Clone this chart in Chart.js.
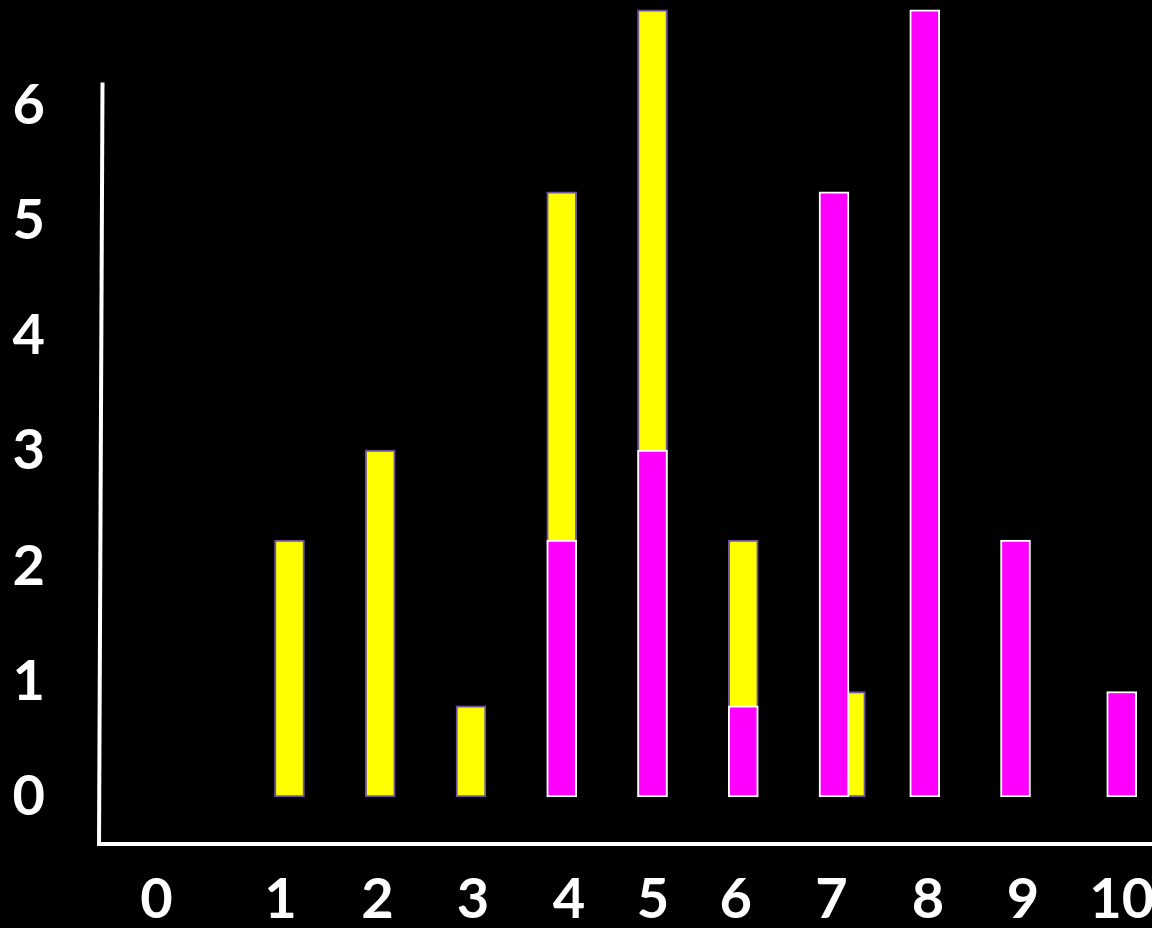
<!DOCTYPE html>
<html>
<head>
<meta charset="utf-8">
<script src="https://cdn.jsdelivr.net/npm/chart.js@4.4.1/dist/chart.umd.min.js"></script>
<style>
  html, body { margin: 0; padding: 0; background: #000; }
  #wrap { width: 1152px; height: 928px; }
</style>
</head>
<body>
<div id="wrap"><canvas id="c" width="1152" height="928"></canvas></div>
<script>
// ---- data ----
const yellowX = [1, 2, 3, 4, 5, 6, 7.18];
const yellowY = [2.23, 3.01, 0.79, 5.25, 6.83, 2.23, 0.915];
const magentaX = [4, 5, 6, 7, 8, 9, 10.17];
const magentaY = [2.23, 3.01, 0.79, 5.25, 6.83, 2.23, 0.915];

const xTickLabels = ['0', '1', '2', '3', '4', '5', '6', '7', '8', '9', '10'];
const xTickAt = [-0.466, 0.901, 1.970, 3.022, 4.080, 5.006, 5.918, 6.972, 8.036, 9.083, 10.170];
const yTickLabels = ['0', '1', '2', '3', '4', '5', '6'];
const yTickAt = [0, 1, 2, 3, 4, 5, 6];

const toPoints = (xs, ys) => xs.map((x, i) => ({ x: x, y: ys[i] }));

const FONT = { family: 'Lato, "Open Sans", sans-serif', size: 56, weight: 'bold' };

const bgAndAxes = {
  id: 'bgAndAxes',
  beforeDraw(chart) {
    const ctx = chart.ctx;
    ctx.save();
    ctx.fillStyle = '#000';
    ctx.fillRect(0, 0, chart.width, chart.height);
    ctx.restore();
  },
  afterDatasetsDraw(chart) {
    const ctx = chart.ctx;
    const a = chart.chartArea;
    const ys = chart.scales.y;
    ctx.save();
    ctx.strokeStyle = '#fff';
    ctx.lineWidth = 4;
    ctx.lineCap = 'butt';
    // y axis line (slightly tilted, as in the reference)
    ctx.beginPath();
    ctx.moveTo(a.left + 3.5, ys.getPixelForValue(6.2));
    ctx.lineTo(a.left, a.bottom + 2);
    ctx.stroke();
    // x axis line
    ctx.beginPath();
    ctx.moveTo(a.left - 2, a.bottom);
    ctx.lineTo(a.right, a.bottom);
    ctx.stroke();
    ctx.restore();
  }
};

new Chart(document.getElementById('c'), {
  type: 'bar',
  data: {
    datasets: [
      {
        label: 'magenta',
        data: toPoints(magentaX, magentaY),
        backgroundColor: '#ff00ff',
        borderColor: '#ffffff',
        borderWidth: 2,
        borderSkipped: false,
        grouped: false,
        barThickness: 30
      },
      {
        label: 'yellow',
        data: toPoints(yellowX, yellowY),
        backgroundColor: '#ffff00',
        borderColor: '#6f54a0',
        borderWidth: 2,
        borderSkipped: false,
        grouped: false,
        barThickness: 30
      }
    ]
  },
  options: {
    responsive: false,
    animation: false,
    events: [],
    layout: { padding: 0 },
    plugins: { legend: { display: false }, tooltip: { enabled: false } },
    scales: {
      x: {
        type: 'linear',
        offset: false,
        min: -1.099,
        max: 10.504,
        grid: { display: false, drawTicks: false, offset: false },
        border: { display: false },
        afterBuildTicks: (s) => { s.ticks = xTickAt.map(v => ({ value: v })); },
        afterFit: (s) => { s.height = 84; s.paddingLeft = 0; s.paddingRight = 0; s.paddingTop = 0; s.paddingBottom = 0; },
        ticks: {
          color: '#fff',
          font: FONT,
          padding: 22,
          autoSkip: false,
          maxRotation: 0,
          minRotation: 0,
          callback: (v, i) => xTickLabels[i]
        }
      },
      y: {
        type: 'linear',
        min: -0.408,
        max: 6.915,
        beginAtZero: false,
        grace: 0,
        grid: { display: false, drawTicks: false },
        border: { display: false },
        afterBuildTicks: (s) => { s.ticks = yTickAt.map(v => ({ value: v })); },
        afterFit: (s) => { s.width = 99; s.paddingTop = 0; s.paddingBottom = 0; s.paddingLeft = 0; s.paddingRight = 0; },
        ticks: {
          color: '#fff',
          font: FONT,
          padding: 54,
          autoSkip: false,
          callback: (v, i) => yTickLabels[i]
        }
      }
    }
  },
  plugins: [bgAndAxes]
});
</script>
</body>
</html>
